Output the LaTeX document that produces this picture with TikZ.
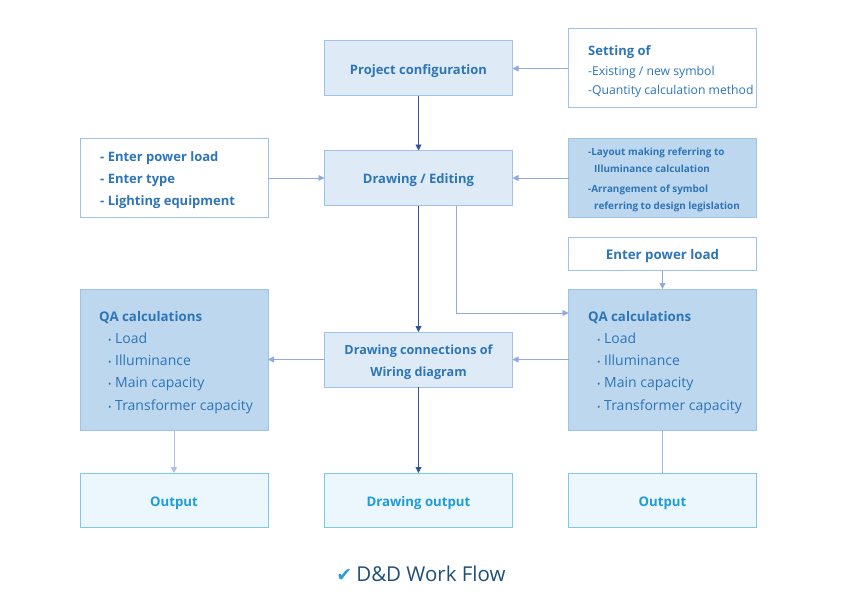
\documentclass[tikz,border=0pt]{standalone}
\usepackage{fontspec}
\setmainfont{Open Sans}
\newfontfamily\symfont{DejaVu Sans}
\usetikzlibrary{arrows.meta}
\definecolor{lightfill}{HTML}{DEEBF7}
\definecolor{midfill}{HTML}{BDD7EE}
\definecolor{bord}{HTML}{9DC3E6}
\definecolor{outfill}{HTML}{EBF7FC}
\definecolor{outbord}{HTML}{7FC9E8}
\definecolor{outtext}{HTML}{1E9CD7}
\definecolor{txt}{HTML}{2E75B6}
\definecolor{darkarr}{HTML}{2F5597}
\definecolor{lightarr}{HTML}{8FAADC}
\definecolor{titletxt}{HTML}{1F4E79}
\definecolor{checkc}{HTML}{2E9BDB}
\newcommand\vcline[2][-6pt]{\raisebox{#1}[0pt][0pt]{#2}}
\tikzset{
  box/.style={draw=bord, line width=1pt, minimum width=188pt, outer sep=0pt, inner sep=0pt, text=txt},
  proc/.style={box, fill=lightfill, minimum height=55pt, font=\bfseries\fontsize{13}{14}\selectfont, align=center},
  inbox/.style={box, fill=white},
  qabox/.style={box, fill=midfill, minimum height=141pt},
  outbox/.style={draw=outbord, line width=1pt, fill=outfill, minimum width=188pt, minimum height=54pt, outer sep=0pt, text=outtext, font=\bfseries\fontsize{13.2}{14}\selectfont},
  darr/.style={draw=darkarr, line width=0.9pt, -{Triangle[width=6pt,length=6pt]}},
  larr/.style={draw=lightarr, line width=0.9pt, -{Triangle[width=6pt,length=6pt]}},
  lline/.style={draw=lightarr!80, line width=0.9pt},
  qatext/.style={align=left, font=\fontsize{14}{22.2}\selectfont}
}
\begin{document}
\begin{tikzpicture}[x=1pt,y=-1pt]
\useasboundingbox (0,0) rectangle (845,607);
% row 1
\node[proc] (pc) at (418.5,68.5) {\vcline{Project configuration}};
\node[inbox, minimum height=79pt, anchor=north west] (set) at (568,29) {};
\node[anchor=north west, text=txt, align=left, inner sep=0pt, font=\fontsize{12.2}{19.5}\selectfont] (settxt) at (588,45.5)
  {{\bfseries\fontsize{13}{19.5}\selectfont Setting of}\\-Existing / new symbol\\-Quantity calculation method};
% row 2
\node[proc] (de) at (418.5,178) {\vcline[-5.5pt]{Drawing / Editing}};
\node[inbox, minimum height=79pt] (inp) at (174,177.5) {};
\node[anchor=north west, text=txt, align=left, inner sep=0pt, font=\bfseries\fontsize{13}{22}\selectfont] (inptxt) at (100,151.5)
  {- Enter power load\\- Enter type\\- Lighting equipment};
\node[box, fill=midfill, minimum height=79pt] (lay) at (662.5,177.5) {};
\node[anchor=north west, text=txt, align=left, inner sep=0pt, font=\bfseries\fontsize{9.9}{17}\selectfont] (laytxt) at (588,147.5)
  {-Layout making referring to\\\hspace*{6pt}Illuminance calculation\\[3pt]-Arrangement of symbol\\\hspace*{6pt}referring to design legislation};
% row 3
\node[inbox, minimum height=33pt, font=\bfseries\fontsize{13.3}{14}\selectfont] (epl) at (662.5,253.5) {\vcline{Enter power load}};
\node[qabox] (qal) at (174,359.5) {};
\node[qabox] (qar) at (662.5,359.5) {};
\node[anchor=north west, text=txt, qatext, inner sep=0pt] (qaltxt) at (99,311)
  {{\bfseries\fontsize{13.3}{22}\selectfont QA calculations}\\\hspace*{9pt}{\small•} Load\\\hspace*{9pt}{\small•} Illuminance\\\hspace*{9pt}{\small•} Main capacity\\\hspace*{9pt}{\small•} Transformer capacity};
\node[anchor=north west, text=txt, qatext, inner sep=0pt] (qartxt) at (588,311)
  {{\bfseries\fontsize{13.3}{22}\selectfont QA calculations}\\\hspace*{9pt}{\small•} Load\\\hspace*{9pt}{\small•} Illuminance\\\hspace*{9pt}{\small•} Main capacity\\\hspace*{9pt}{\small•} Transformer capacity};
\node[proc, font=\bfseries\fontsize{12.6}{22}\selectfont] (dc) at (418.5,359.5) {\vcline[-4.7pt]{\begin{tabular}{@{}c@{}}Drawing connections of\\[-0.5pt]Wiring diagram\end{tabular}}};
% row 4
\node[outbox] (o1) at (174,500) {\vcline[-6.5pt]{Output}};
\node[outbox] (o2) at (418.5,500) {\vcline[-6.5pt]{Drawing output}};
\node[outbox] (o3) at (662.5,500) {\vcline[-6.5pt]{Output}};
% title
\node[inner sep=0pt, font=\fontsize{20.5}{22}\selectfont, text=titletxt] (title) at (421,574)
  {{\symfont\color{checkc}\fontsize{19}{18}\selectfont ✔}\hspace{4pt}D\&D Work Flow};
% connectors
\draw[larr] (set.west |- pc) -- (pc.east);
\draw[darr] (pc) -- (de);
\draw[larr] (inp.east |- de) -- (de.west);
\draw[larr] (lay.west |- de) -- (de.east);
\draw[darr] (de) -- (dc);
\coordinate (bend) at (456,313);
\draw[larr] (de.south -| bend) -- (bend) -- (bend -| qar.west);
\draw[larr] (epl) -- (qar);
\draw[larr] (qar.west |- dc) -- (dc.east);
\draw[larr] (dc.west) -- (dc.west -| qal.east);
\draw[larr, draw=lightarr!75] (qal) -- (o1);
\draw[darr] (dc) -- (o2);
\draw[lline] (qar) -- (o3);
\end{tikzpicture}
\end{document}
